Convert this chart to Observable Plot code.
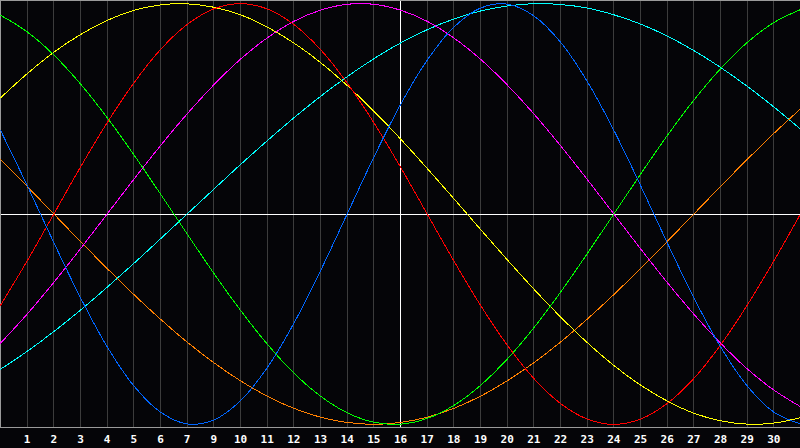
<!DOCTYPE html>
<html>
<head>
<meta charset="utf-8">
<script src="https://cdn.jsdelivr.net/npm/d3@7"></script>
<script src="https://cdn.jsdelivr.net/npm/@observablehq/plot@0.6"></script>
<style>
  html, body { margin: 0; padding: 0; background: #050508; }
  #chart svg { display: block; }
</style>
</head>
<body>
<div id="chart"></div>
<script>
// Day index along the chart (0 .. 30)
const days = [0,1,2,3,4,5,6,7,8,9,10,11,12,13,14,15,16,17,18,19,20,21,22,23,24,25,26,27,28,29,30];

// Cycle values in percent, one per day
const physical     = [39.8,13.6,-13.6,-39.8,-63.1,-81.7,-94.2,-99.8,-97.9,-88.8,-73.1,-52.0,-27.0,0,27.0,52.0,73.1,88.8,97.9,99.8,94.2,81.7,63.1,39.8,13.6,-13.6,-39.8,-63.1,-81.7,-94.2,-99.8];
const emotional    = [-43.4,-22.3,0,22.3,43.4,62.3,78.2,90.1,97.5,100,97.5,90.1,78.2,62.3,43.4,22.3,0,-22.3,-43.4,-62.3,-78.2,-90.1,-97.5,-100,-97.5,-90.1,-78.2,-62.3,-43.4,-22.3,0];
const intellectual = [94.5,86.6,75.6,61.8,45.8,28.2,9.5,-9.5,-28.2,-45.8,-61.8,-75.6,-86.6,-94.5,-99.0,-99.9,-97.2,-91.0,-81.5,-69.0,-54.1,-37.2,-18.9,0,18.9,37.2,54.1,69.0,81.5,91.0,97.2];
const intuitive    = [-61.4,-47.6,-32.5,-16.5,0,16.5,32.5,47.6,61.4,73.6,83.7,91.6,96.9,99.7,99.7,96.9,91.6,83.7,73.6,61.4,47.6,32.5,16.5,0,-16.5,-32.5,-47.6,-61.4,-73.6,-83.7,-91.6];
const aesthetic    = [55.2,66.7,76.9,85.3,92.0,96.8,99.4,99.9,98.3,94.7,88.9,81.3,72.0,61.1,48.9,35.7,21.7,7.3,-7.3,-21.7,-35.7,-48.9,-61.1,-72.0,-81.3,-88.9,-94.7,-98.3,-99.9,-99.4,-96.8];
const awareness    = [25.9,13.1,0,-13.1,-25.9,-38.3,-50.0,-60.9,-70.7,-79.3,-86.6,-92.4,-96.6,-99.1,-100,-99.1,-96.6,-92.4,-86.6,-79.3,-70.7,-60.9,-50.0,-38.3,-25.9,-13.1,0,13.1,25.9,38.3,50.0];
const spiritual    = [-73.8,-65.3,-55.9,-45.7,-34.8,-23.5,-11.8,0,11.8,23.5,34.8,45.7,55.9,65.3,73.8,81.3,87.6,92.7,96.5,98.9,100.0,99.6,97.9,94.7,90.3,84.6,77.7,69.7,60.7,50.9,40.3];

const seriesNames  = ["spiritual","awareness","aesthetic","intuitive","intellectual","emotional","physical"];
const seriesValues = [spiritual, awareness, aesthetic, intuitive, intellectual, emotional, physical];
const seriesColors = ["#00ffff","#ff8000","#ffff00","#ff00ff","#00ff00","#ff0000","#0066ff"];

// Gridline positions and their labels
const gridDays  = [1,2,3,4,5,6,7,8,9,10,11,12,13,14,15,16,17,18,19,20,21,22,23,24,25,26,27,28,29];
const tickLabels = ["1","2","3","4","5","6","7","9","10","11","12","13","14","15","16","17","18","19","20","21","22","23","24","25","26","27","28","29","30"];
const centerDay = 15;

const rows = seriesNames.flatMap((name, i) =>
  days.map((d, j) => ({series: name, day: d, value: seriesValues[i][j]}))
);

const chart = Plot.plot({
  width: 800,
  height: 448,
  marginTop: 0,
  marginBottom: 21,
  marginLeft: 0,
  marginRight: 0,
  style: {background: "#050508", color: "#ffffff"},
  x: {domain: [0, 30], axis: null},
  y: {domain: [-101.5, 101.5], axis: null},
  color: {domain: seriesNames, range: seriesColors},
  marks: [
    Plot.ruleX(gridDays, {stroke: "#3c3c3c", strokeWidth: 1, shapeRendering: "crispEdges"}),
    Plot.ruleX([centerDay], {stroke: "#ffffff", strokeWidth: 1, shapeRendering: "crispEdges"}),
    Plot.ruleY([0], {stroke: "#ffffff", strokeWidth: 1, shapeRendering: "crispEdges"}),
    Plot.frame({stroke: "#9a9a9a", strokeWidth: 1, shapeRendering: "crispEdges"}),
    Plot.line(rows, {
      x: "day", y: "value", z: "series", stroke: "series",
      curve: "catmull-rom", strokeWidth: 1, shapeRendering: "crispEdges"
    }),
    Plot.axisX(gridDays, {
      label: null,
      tickSize: 0,
      tickPadding: 8,
      tickFormat: (d, i) => tickLabels[i],
      fill: "#ffffff",
      fontSize: 11,
      fontWeight: "bold",
      fontFamily: "DejaVu Sans Mono"
    })
  ]
});

document.getElementById("chart").appendChild(chart);
</script>
</body>
</html>
